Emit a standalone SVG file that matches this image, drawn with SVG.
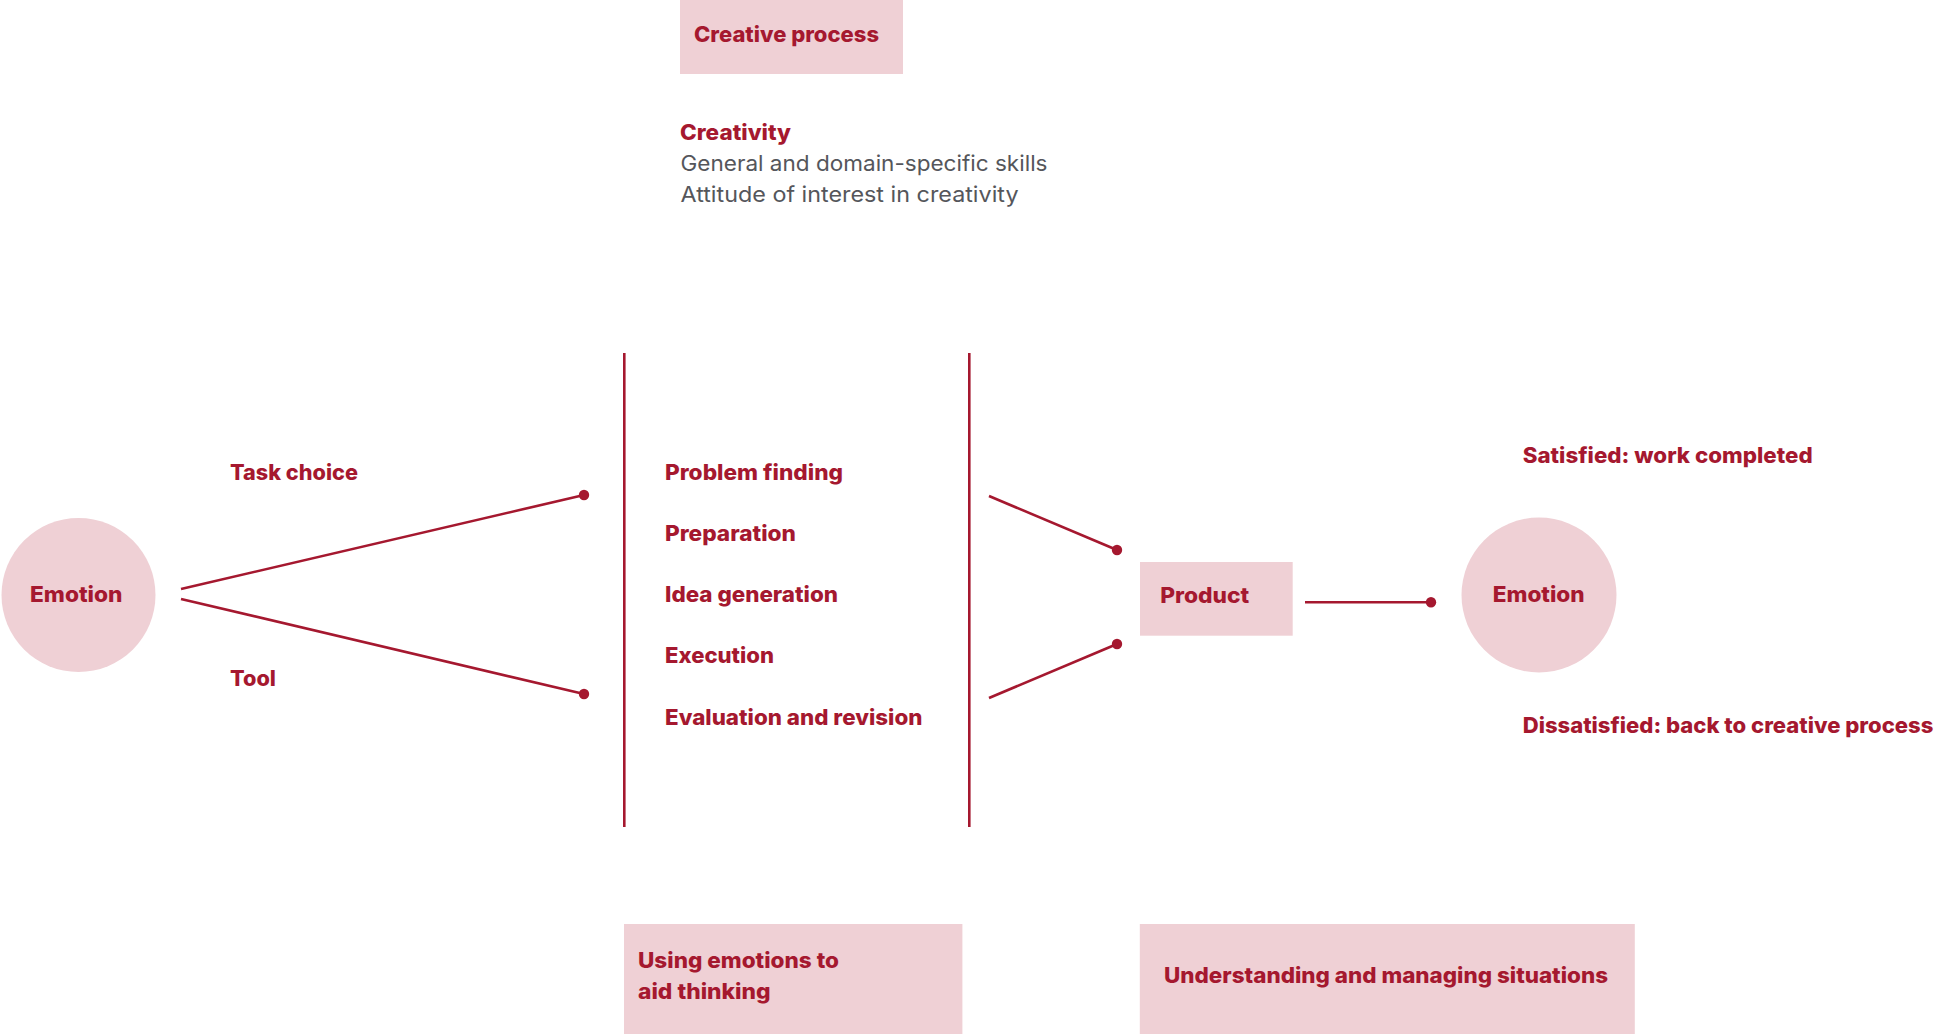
<svg xmlns="http://www.w3.org/2000/svg" width="1934" height="1034" viewBox="0 0 1934 1034">
  <style>
    .lbl { font-family: "Inter", "Liberation Sans", sans-serif; font-weight: 800; font-size: 21.5px; fill: #a5182f; }
    .note { font-family: "Inter", "Liberation Sans", sans-serif; font-weight: 400; font-size: 21.5px; fill: #55565b; }
    .box { fill: #efd0d5; }
    .wire { stroke: #a5182f; stroke-width: 2.6; fill: none; }
    .dot { fill: #a5182f; }
  </style>
  <rect width="1934" height="1034" fill="#ffffff"/>

  <!-- header box -->
  <g id="creative-process">
    <rect class="box" x="680" y="0" width="223" height="74"/>
    <text class="lbl" x="694" y="42" textLength="185" lengthAdjust="spacingAndGlyphs">Creative process</text>
  </g>

  <!-- creativity notes -->
  <g id="creativity">
    <text class="lbl" x="680" y="140" textLength="111" lengthAdjust="spacingAndGlyphs">Creativity</text>
    <text class="note" x="680.5" y="170.5" textLength="367" lengthAdjust="spacingAndGlyphs">General and domain-specific skills</text>
    <text class="note" x="680.5" y="201.5" textLength="338" lengthAdjust="spacingAndGlyphs">Attitude of interest in creativity</text>
  </g>

  <!-- connectors -->
  <g id="connectors">
    <line class="wire" x1="181" y1="589" x2="584" y2="495"/>
    <circle class="dot" cx="584" cy="495" r="5.2"/>
    <line class="wire" x1="181" y1="599" x2="584" y2="694"/>
    <circle class="dot" cx="584" cy="694" r="5.2"/>
    <line class="wire" x1="624.3" y1="353" x2="624.3" y2="827"/>
    <line class="wire" x1="969.3" y1="353" x2="969.3" y2="827"/>
    <line class="wire" x1="989" y1="496" x2="1117" y2="550"/>
    <circle class="dot" cx="1117" cy="550" r="5.2"/>
    <line class="wire" x1="989" y1="698" x2="1117" y2="644"/>
    <circle class="dot" cx="1117" cy="644" r="5.2"/>
    <line class="wire" x1="1305" y1="602.3" x2="1431" y2="602.3"/>
    <circle class="dot" cx="1431" cy="602.3" r="5.2"/>
  </g>

  <g id="emotion-start">
    <circle class="box" cx="78.5" cy="595" r="77"/>
    <text class="lbl" x="30" y="602" textLength="92.5" lengthAdjust="spacingAndGlyphs">Emotion</text>
  </g>

  <g id="task-choice">
    <text class="lbl" x="230" y="480" textLength="128" lengthAdjust="spacingAndGlyphs">Task choice</text>
  </g>

  <g id="tool">
    <text class="lbl" x="230" y="685.5" textLength="46" lengthAdjust="spacingAndGlyphs">Tool</text>
  </g>

  <!-- stages between the two rules -->
  <g id="stages">
    <text class="lbl" x="665" y="480" textLength="178" lengthAdjust="spacingAndGlyphs">Problem finding</text>
    <text class="lbl" x="665" y="541" textLength="131" lengthAdjust="spacingAndGlyphs">Preparation</text>
    <text class="lbl" x="665" y="601.7" textLength="173" lengthAdjust="spacingAndGlyphs">Idea generation</text>
    <text class="lbl" x="665" y="663.3" textLength="109" lengthAdjust="spacingAndGlyphs">Execution</text>
    <text class="lbl" x="665" y="725" textLength="257.5" lengthAdjust="spacingAndGlyphs">Evaluation and revision</text>
  </g>

  <g id="product">
    <rect class="box" x="1140" y="562" width="152.7" height="73.7"/>
    <text class="lbl" x="1160.3" y="603.3" textLength="89" lengthAdjust="spacingAndGlyphs">Product</text>
  </g>

  <g id="emotion-end">
    <circle class="box" cx="1539" cy="595" r="77.5"/>
    <text class="lbl" x="1492.7" y="602.3" textLength="92" lengthAdjust="spacingAndGlyphs">Emotion</text>
  </g>

  <g id="satisfied">
    <text class="lbl" x="1522.7" y="462.7" textLength="290" lengthAdjust="spacingAndGlyphs">Satisfied: work completed</text>
  </g>

  <g id="dissatisfied">
    <text class="lbl" x="1522.7" y="733.3" textLength="410.7" lengthAdjust="spacingAndGlyphs">Dissatisfied: back to creative process</text>
  </g>

  <g id="using-emotions">
    <rect class="box" x="624" y="924" width="338.4" height="110"/>
    <text class="lbl" x="638" y="968.3" textLength="201" lengthAdjust="spacingAndGlyphs">Using emotions to</text>
    <text class="lbl" x="638" y="999.3" textLength="132.6" lengthAdjust="spacingAndGlyphs">aid thinking</text>
  </g>

  <g id="understanding">
    <rect class="box" x="1139.8" y="924" width="495" height="110"/>
    <text class="lbl" x="1164" y="982.7" textLength="444" lengthAdjust="spacingAndGlyphs">Understanding and managing situations</text>
  </g>
</svg>
